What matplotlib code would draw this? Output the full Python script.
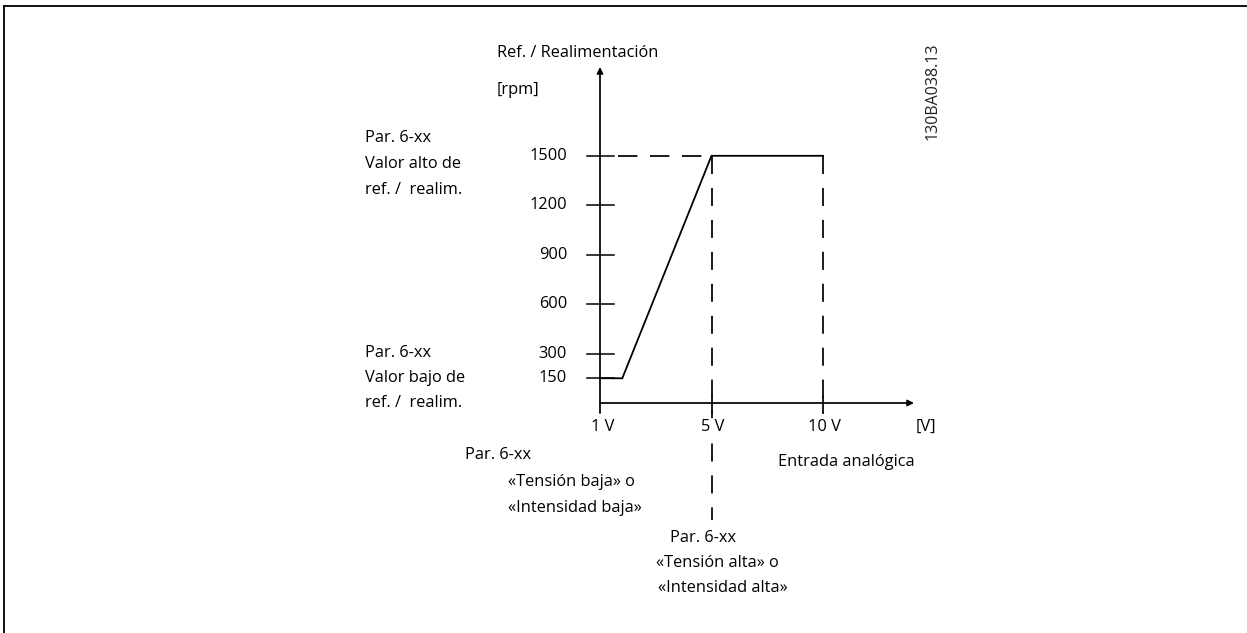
import matplotlib
matplotlib.use('Agg')
import matplotlib.pyplot as plt

# figure size in pixels
W, H = 1247, 633

plt.rcParams['font.family'] = ['Open Sans', 'DejaVu Sans']
plt.rcParams['lines.scale_dashes'] = False

# chart values
x_pos = [0, 1, 2]
x_labels = ['1 V', '5 V', '10 V']
y_ticks = [150, 300, 600, 900, 1200, 1500]
line_x = [0, 0.2, 1, 2]
line_y = [150, 150, 1500, 1500]
ref_high = 1500

# pixel <-> data helpers (x: 1V at px 600, 111.5 px per step; y: 0 at px 403)
X0, XS = 600, 111.5
Y0, YS = 403, 0.1648


def dx(p):
    return (p - X0) / XS


def dy(p):
    return (Y0 - p) / YS


fig = plt.figure(figsize=(W / 100, H / 100), dpi=100)
ax = fig.add_axes([0, 0, 1, 1])
ax.set_xlim(dx(0), dx(W))
ax.set_ylim(dy(H), dy(0))
ax.axis('off')

FS = 11.8
LW = 1.25

# frame (top + left)
ax.plot([dx(4), dx(W + 5)], [dy(6), dy(6)], color='k', lw=1.3, clip_on=False)
ax.plot([dx(4), dx(4)], [dy(6), dy(H + 5)], color='k', lw=1.3, clip_on=False)

# axes with arrows
arrow = dict(arrowstyle='-|>', color='k', lw=LW, mutation_scale=9,
             shrinkA=0, shrinkB=0)
ax.annotate('', xy=(0, dy(67)), xytext=(0, dy(413)), arrowprops=arrow)
ax.annotate('', xy=(dx(914), 0), xytext=(0, 0), arrowprops=arrow)

# y ticks
for v in y_ticks:
    ax.plot([dx(587), dx(614)], [v, v], color='k', lw=1.1)
    ax.text(dx(567), v, str(v), ha='right', va='center', fontsize=FS)

# x ticks
for p in x_pos[1:]:
    ax.plot([p, p], [dy(397), dy(413)], color='k', lw=LW)

# dashed guides
ax.plot([dx(618), x_pos[1]], [ref_high, ref_high], color='k', lw=LW,
        dashes=(14, 9))
ax.plot([x_pos[1], x_pos[1]], [ref_high, dy(520)], color='k', lw=LW,
        dashes=(13, 10))
ax.plot([x_pos[2], x_pos[2]], [ref_high, dy(413)], color='k', lw=LW,
        dashes=(13, 10))

# reference curve
ax.plot(line_x, line_y, color='k', lw=1.3, solid_joinstyle='miter', zorder=5)

# x tick labels
for p, lab in zip(x_pos, x_labels):
    ax.text(p + dx(603) if p == 0 else p + 0.01, dy(427), lab, ha='center',
            va='center', fontsize=FS, zorder=6,
            bbox=dict(facecolor='white', edgecolor='none', pad=1))
ax.text(dx(926), dy(427), '[V]', ha='center', va='center', fontsize=FS)


def label(x, y, s, **kw):
    fig.text(x / W, 1 - y / H, s, va='center', fontsize=FS, **kw)


label(497, 53, 'Ref. / Realimentación')
label(497, 90, '[rpm]')

label(365, 138, 'Par. 6-xx')
label(365, 164, 'Valor alto de')
label(365, 190, 'ref. /  realim.')

label(365, 353, 'Par. 6-xx')
label(365, 378, 'Valor bajo de')
label(365, 403, 'ref. /  realim.')

label(465, 455, 'Par. 6-xx')
label(508, 482, '«Tensión baja» o')
label(508, 508, '«Intensidad baja»')

label(670, 538, 'Par. 6-xx')
label(656, 563, '«Tensión alta» o')
label(658, 588, '«Intensidad alta»')

label(778, 462, 'Entrada analógica')

fig.text(933 / W, 1 - 91 / H, '130BA038.13', rotation=90, ha='center',
         va='center', fontsize=11.5, color='#222222')

fig.savefig('out.png', dpi=100)
